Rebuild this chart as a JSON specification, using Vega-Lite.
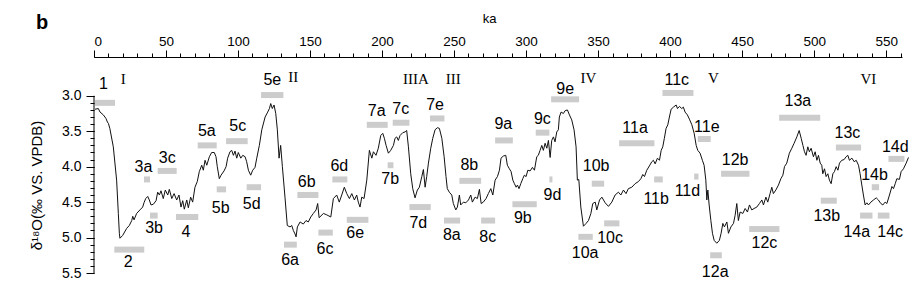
{
  "$schema": "https://vega.github.io/schema/vega-lite/v6.json",
  "autosize": "none",
  "width": 808,
  "height": 216,
  "padding": {"left": 94, "top": 57, "right": 9, "bottom": 22},
  "background": "white",
  "title": {"text": "b", "anchor": "start", "frame": "group", "dx": -58, "offset": -37, "baseline": "alphabetic", "fontSize": 20, "fontWeight": "bold", "font": "Liberation Sans", "color": "black"},
  "config": {
    "view": {"stroke": null},
    "axis": {"grid": false, "labelFont": "Liberation Sans", "titleFont": "Liberation Sans", "labelColor": "black", "titleColor": "black", "tickColor": "black", "domainColor": "black", "titleFontWeight": "normal"},
    "text": {"font": "Liberation Sans"}
  },
  "datasets": {
    "curve": [
      {"ka":0.7,"d":3.19},{"ka":3,"d":3.18},{"ka":4.2,"d":3.23},{"ka":6.5,"d":3.27},{"ka":8.3,"d":3.32},{"ka":9.3,"d":3.37},{"ka":10,"d":3.39},{"ka":11,"d":3.46},{"ka":13.4,"d":3.72},{"ka":15.7,"d":4.19},{"ka":16.9,"d":4.66},{"ka":17.6,"d":4.94},{"ka":18,"d":5.01},{"ka":19.9,"d":4.97},{"ka":22.7,"d":4.87},{"ka":24.5,"d":4.83},{"ka":26.2,"d":4.76},{"ka":26.9,"d":4.70},{"ka":27.8,"d":4.75},{"ka":29.6,"d":4.66},{"ka":31.9,"d":4.61},{"ka":33.8,"d":4.57},{"ka":34.7,"d":4.51},{"ka":35.9,"d":4.45},{"ka":37.3,"d":4.42},{"ka":38.4,"d":4.47},{"ka":39.6,"d":4.54},{"ka":41.2,"d":4.53},{"ka":43.1,"d":4.48},{"ka":44.2,"d":4.36},{"ka":45.4,"d":4.40},{"ka":46.5,"d":4.34},{"ka":48.1,"d":4.45},{"ka":49.5,"d":4.33},{"ka":51.2,"d":4.40},{"ka":52.3,"d":4.32},{"ka":54,"d":4.45},{"ka":55.6,"d":4.38},{"ka":57.4,"d":4.47},{"ka":59,"d":4.40},{"ka":60.4,"d":4.57},{"ka":61.6,"d":4.48},{"ka":62.7,"d":4.60},{"ka":64.4,"d":4.47},{"ka":65.5,"d":4.58},{"ka":67.1,"d":4.43},{"ka":68.5,"d":4.50},{"ka":70.1,"d":4.29},{"ka":71.7,"d":4.21},{"ka":73.1,"d":4.07},{"ka":74.8,"d":3.98},{"ka":75.9,"d":4.05},{"ka":77.1,"d":3.91},{"ka":78.3,"d":3.98},{"ka":80.1,"d":3.86},{"ka":81.7,"d":3.80},{"ka":83.5,"d":3.80},{"ka":84.7,"d":3.86},{"ka":85.6,"d":4.00},{"ka":87,"d":4.17},{"ka":88.2,"d":4.12},{"ka":90.3,"d":4.06},{"ka":91.7,"d":4.00},{"ka":92.8,"d":3.88},{"ka":94.4,"d":3.79},{"ka":95.6,"d":3.77},{"ka":96.8,"d":3.84},{"ka":97.9,"d":3.78},{"ka":99.1,"d":3.88},{"ka":100.2,"d":3.80},{"ka":101.9,"d":3.88},{"ka":103.3,"d":3.84},{"ka":104.9,"d":3.86},{"ka":106,"d":3.93},{"ka":107.2,"d":4.05},{"ka":108.8,"d":4.12},{"ka":110.2,"d":4.05},{"ka":111.8,"d":4.01},{"ka":113,"d":3.88},{"ka":114.8,"d":3.70},{"ka":116.5,"d":3.48},{"ka":118.8,"d":3.30},{"ka":120.6,"d":3.23},{"ka":121.8,"d":3.18},{"ka":122.7,"d":3.11},{"ka":123.8,"d":3.18},{"ka":125,"d":3.13},{"ka":126.2,"d":3.25},{"ka":127.3,"d":3.48},{"ka":128.5,"d":3.88},{"ka":129.6,"d":3.70},{"ka":130.8,"d":4.00},{"ka":132.6,"d":4.43},{"ka":134.2,"d":4.83},{"ka":136.1,"d":4.85},{"ka":137.3,"d":4.83},{"ka":138.4,"d":4.90},{"ka":139.6,"d":4.95},{"ka":140.3,"d":4.99},{"ka":141.2,"d":4.85},{"ka":143.1,"d":4.78},{"ka":145.3,"d":4.81},{"ka":147.2,"d":4.76},{"ka":148.8,"d":4.78},{"ka":150.5,"d":4.71},{"ka":152.3,"d":4.66},{"ka":154.2,"d":4.61},{"ka":155.3,"d":4.52},{"ka":156.3,"d":4.72},{"ka":159.3,"d":4.66},{"ka":161.6,"d":4.68},{"ka":164.4,"d":4.71},{"ka":166.2,"d":4.45},{"ka":168.5,"d":4.40},{"ka":170.3,"d":4.50},{"ka":172,"d":4.40},{"ka":173.8,"d":4.29},{"ka":175.5,"d":4.38},{"ka":177.3,"d":4.45},{"ka":179,"d":4.38},{"ka":180.8,"d":4.47},{"ka":182.4,"d":4.40},{"ka":183.5,"d":4.50},{"ka":184.7,"d":4.57},{"ka":185.9,"d":4.43},{"ka":187.5,"d":4.45},{"ka":189.4,"d":4.19},{"ka":191.2,"d":3.77},{"ka":192.9,"d":3.88},{"ka":194,"d":3.79},{"ka":195.8,"d":3.84},{"ka":197.4,"d":3.74},{"ka":199.1,"d":3.56},{"ka":200.5,"d":3.53},{"ka":201.6,"d":3.60},{"ka":202.8,"d":3.70},{"ka":204.4,"d":3.81},{"ka":206,"d":3.77},{"ka":207.9,"d":3.70},{"ka":209,"d":3.60},{"ka":210.2,"d":3.58},{"ka":211.3,"d":3.63},{"ka":212.5,"d":3.56},{"ka":214.4,"d":3.52},{"ka":216,"d":3.51},{"ka":217.1,"d":3.49},{"ka":218.3,"d":3.72},{"ka":219.9,"d":4.10},{"ka":221.3,"d":4.31},{"ka":222.9,"d":4.44},{"ka":224.5,"d":4.33},{"ka":225.9,"d":4.29},{"ka":227.6,"d":4.14},{"ka":228.7,"d":4.04},{"ka":229.9,"d":4.29},{"ka":231,"d":4.14},{"ka":232.2,"d":3.95},{"ka":233.8,"d":3.74},{"ka":235.2,"d":3.60},{"ka":236.8,"d":3.48},{"ka":238.4,"d":3.45},{"ka":239.8,"d":3.46},{"ka":241.5,"d":3.60},{"ka":243.1,"d":3.86},{"ka":244.4,"d":4.14},{"ka":245.3,"d":4.31},{"ka":246.7,"d":4.36},{"ka":248.4,"d":4.40},{"ka":249.5,"d":4.52},{"ka":251.2,"d":4.61},{"ka":252.3,"d":4.57},{"ka":253.7,"d":4.40},{"ka":254.6,"d":4.54},{"ka":256.5,"d":4.50},{"ka":258.1,"d":4.51},{"ka":260,"d":4.47},{"ka":261.6,"d":4.40},{"ka":262.7,"d":4.50},{"ka":264.6,"d":4.43},{"ka":266.2,"d":4.45},{"ka":267.6,"d":4.32},{"ka":268.8,"d":4.52},{"ka":270.3,"d":4.50},{"ka":272.2,"d":4.45},{"ka":273.8,"d":4.38},{"ka":275.5,"d":4.31},{"ka":276.9,"d":4.40},{"ka":278.5,"d":4.19},{"ka":280.1,"d":4.14},{"ka":281.5,"d":4.05},{"ka":282.6,"d":3.88},{"ka":284.2,"d":3.85},{"ka":285.9,"d":3.84},{"ka":287,"d":3.98},{"ka":288.4,"d":4.03},{"ka":289.6,"d":4.07},{"ka":290.8,"d":4.19},{"ka":291.9,"d":4.24},{"ka":293.1,"d":4.29},{"ka":294,"d":4.26},{"ka":295.1,"d":4.31},{"ka":296.3,"d":4.24},{"ka":297.7,"d":4.17},{"ka":298.8,"d":4.12},{"ka":300,"d":4.14},{"ka":301.2,"d":4.05},{"ka":302.8,"d":4.06},{"ka":304.4,"d":4.01},{"ka":305.8,"d":4.05},{"ka":307.4,"d":3.86},{"ka":308.5,"d":3.84},{"ka":309.7,"d":3.77},{"ka":310.9,"d":3.70},{"ka":312,"d":3.77},{"ka":313.2,"d":3.67},{"ka":314.4,"d":3.74},{"ka":315.5,"d":3.63},{"ka":316.7,"d":3.87},{"ka":317.8,"d":3.63},{"ka":319,"d":3.58},{"ka":320.1,"d":3.65},{"ka":321.3,"d":3.51},{"ka":322.4,"d":3.48},{"ka":323.1,"d":3.30},{"ka":324.3,"d":3.23},{"ka":325.9,"d":3.25},{"ka":327.1,"d":3.21},{"ka":328.7,"d":3.20},{"ka":330.1,"d":3.27},{"ka":331.7,"d":3.34},{"ka":333.3,"d":3.48},{"ka":334.7,"d":3.72},{"ka":335.6,"d":4.19},{"ka":336.6,"d":4.18},{"ka":338,"d":4.57},{"ka":339.8,"d":4.84},{"ka":341.7,"d":4.80},{"ka":343.3,"d":4.76},{"ka":345,"d":4.66},{"ka":346.3,"d":4.52},{"ka":348,"d":4.50},{"ka":349.1,"d":4.61},{"ka":351,"d":4.47},{"ka":352.6,"d":4.43},{"ka":354.9,"d":4.51},{"ka":357.2,"d":4.56},{"ka":359.5,"d":4.50},{"ka":361.8,"d":4.40},{"ka":364.1,"d":4.36},{"ka":365.8,"d":4.40},{"ka":367.6,"d":4.33},{"ka":369.4,"d":4.38},{"ka":371,"d":4.31},{"ka":373.4,"d":4.29},{"ka":375.7,"d":4.24},{"ka":378,"d":4.21},{"ka":379.7,"d":4.17},{"ka":381,"d":4.11},{"ka":382.2,"d":4.14},{"ka":383.8,"d":4.05},{"ka":385.6,"d":3.99},{"ka":387.3,"d":3.93},{"ka":388.4,"d":3.91},{"ka":389.6,"d":3.96},{"ka":391.2,"d":3.88},{"ka":392.6,"d":3.91},{"ka":393.8,"d":3.77},{"ka":394.9,"d":3.72},{"ka":396,"d":3.60},{"ka":397.2,"d":3.46},{"ka":398.4,"d":3.41},{"ka":399.5,"d":3.30},{"ka":400.7,"d":3.19},{"ka":402.3,"d":3.16},{"ka":404.2,"d":3.13},{"ka":405.1,"d":3.18},{"ka":406.5,"d":3.15},{"ka":408.1,"d":3.18},{"ka":409.2,"d":3.16},{"ka":410.4,"d":3.23},{"ka":412,"d":3.27},{"ka":413.4,"d":3.33},{"ka":415.1,"d":3.41},{"ka":416.7,"d":3.53},{"ka":418.1,"d":3.70},{"ka":419.2,"d":3.77},{"ka":420.8,"d":3.81},{"ka":422.4,"d":3.91},{"ka":423.6,"d":3.98},{"ka":424.8,"d":4.19},{"ka":425.5,"d":4.47},{"ka":426.2,"d":4.33},{"ka":427.1,"d":4.54},{"ka":428.3,"d":4.76},{"ka":429.4,"d":4.94},{"ka":430.6,"d":5.04},{"ka":432.4,"d":5.08},{"ka":434.2,"d":5.04},{"ka":435.4,"d":4.94},{"ka":436.6,"d":4.80},{"ka":437.7,"d":4.85},{"ka":439.4,"d":4.78},{"ka":440.5,"d":4.94},{"ka":442.2,"d":4.85},{"ka":444,"d":4.80},{"ka":445.1,"d":4.69},{"ka":446.3,"d":4.52},{"ka":447.4,"d":4.76},{"ka":448.6,"d":4.64},{"ka":450.5,"d":4.66},{"ka":452.1,"d":4.59},{"ka":453.7,"d":4.64},{"ka":455.1,"d":4.54},{"ka":456.7,"d":4.61},{"ka":458.3,"d":4.59},{"ka":460.2,"d":4.57},{"ka":462,"d":4.52},{"ka":463.7,"d":4.47},{"ka":464.8,"d":4.54},{"ka":466.5,"d":4.43},{"ka":467.8,"d":4.50},{"ka":469.4,"d":4.38},{"ka":470.6,"d":4.29},{"ka":471.7,"d":4.38},{"ka":473.4,"d":4.33},{"ka":475.2,"d":4.26},{"ka":476.9,"d":4.17},{"ka":478.3,"d":4.12},{"ka":479.4,"d":4.00},{"ka":481,"d":3.95},{"ka":482.8,"d":3.81},{"ka":484.5,"d":3.74},{"ka":486.1,"d":3.67},{"ka":488,"d":3.58},{"ka":489.6,"d":3.49},{"ka":491,"d":3.60},{"ka":492.2,"d":3.70},{"ka":493.3,"d":3.79},{"ka":494.4,"d":3.84},{"ka":495.6,"d":3.72},{"ka":496.7,"d":3.79},{"ka":497.9,"d":3.74},{"ka":499.5,"d":3.86},{"ka":500.7,"d":3.79},{"ka":501.9,"d":3.91},{"ka":503,"d":3.84},{"ka":504.2,"d":3.95},{"ka":505.3,"d":3.98},{"ka":506,"d":4.10},{"ka":507.2,"d":4.03},{"ka":508.3,"d":4.14},{"ka":509.5,"d":4.10},{"ka":510.6,"d":4.19},{"ka":511.8,"d":4.24},{"ka":513,"d":4.10},{"ka":514.1,"d":4.07},{"ka":515.3,"d":4.00},{"ka":516.5,"d":4.05},{"ka":517.6,"d":3.95},{"ka":519.2,"d":3.91},{"ka":520.8,"d":3.90},{"ka":522.2,"d":3.86},{"ka":523.4,"d":3.84},{"ka":524.5,"d":3.91},{"ka":526.2,"d":3.88},{"ka":527.8,"d":3.93},{"ka":529.2,"d":3.91},{"ka":530.8,"d":3.98},{"ka":531.9,"d":4.10},{"ka":533.1,"d":4.26},{"ka":534.2,"d":4.40},{"ka":535.4,"d":4.54},{"ka":536.6,"d":4.51},{"ka":537.7,"d":4.54},{"ka":539.4,"d":4.50},{"ka":541.2,"d":4.47},{"ka":543.1,"d":4.44},{"ka":544.6,"d":4.47},{"ka":546.3,"d":4.52},{"ka":547.7,"d":4.54},{"ka":549.3,"d":4.50},{"ka":550.5,"d":4.52},{"ka":552.3,"d":4.40},{"ka":554,"d":4.28},{"ka":555.1,"d":4.31},{"ka":556.3,"d":4.24},{"ka":557.4,"d":4.17},{"ka":559.2,"d":4.18},{"ka":560.4,"d":4.07},{"ka":562,"d":4.03},{"ka":563.9,"d":3.95},{"ka":565.5,"d":3.87}
    ],
    "mis": [
      {"mis":"1","x1":0.7,"x2":14.6,"y":3.10,"lx":6.5,"ly":2.84},
      {"mis":"2","x1":14.1,"x2":34.9,"y":5.17,"lx":23.8,"ly":5.34},
      {"mis":"3a","x1":34.7,"x2":38.9,"y":4.18,"lx":34.3,"ly":4.01},
      {"mis":"3b","x1":38.9,"x2":44.2,"y":4.69,"lx":41.7,"ly":4.87},
      {"mis":"3c","x1":44.2,"x2":57.4,"y":4.06,"lx":50.9,"ly":3.88},
      {"mis":"4","x1":56.9,"x2":72.4,"y":4.71,"lx":63.9,"ly":4.92},
      {"mis":"5a","x1":72.0,"x2":85.2,"y":3.70,"lx":78.3,"ly":3.50},
      {"mis":"5b","x1":85.2,"x2":91.7,"y":4.32,"lx":88.0,"ly":4.58},
      {"mis":"5c","x1":91.7,"x2":106.7,"y":3.64,"lx":99.8,"ly":3.43},
      {"mis":"5d","x1":106.0,"x2":116.0,"y":4.29,"lx":109.5,"ly":4.53},
      {"mis":"5e","x1":116.0,"x2":131.5,"y":2.99,"lx":123.8,"ly":2.78},
      {"mis":"6a","x1":131.9,"x2":140.8,"y":5.10,"lx":136.1,"ly":5.32},
      {"mis":"6b","x1":141.2,"x2":155.8,"y":4.40,"lx":147.7,"ly":4.21},
      {"mis":"6c","x1":155.8,"x2":165.8,"y":4.93,"lx":160.4,"ly":5.16},
      {"mis":"6d","x1":165.5,"x2":175.9,"y":4.18,"lx":170.3,"ly":3.99},
      {"mis":"6e","x1":175.5,"x2":190.5,"y":4.75,"lx":181.3,"ly":4.94},
      {"mis":"7a","x1":189.4,"x2":203.9,"y":3.41,"lx":196.3,"ly":3.22},
      {"mis":"7b","x1":203.9,"x2":207.9,"y":3.98,"lx":205.6,"ly":4.18},
      {"mis":"7c","x1":207.4,"x2":219.0,"y":3.38,"lx":213.0,"ly":3.19},
      {"mis":"7d","x1":219.0,"x2":233.8,"y":4.57,"lx":225.2,"ly":4.79},
      {"mis":"7e","x1":233.3,"x2":243.3,"y":3.32,"lx":236.8,"ly":3.13},
      {"mis":"8a","x1":243.0,"x2":254.2,"y":4.76,"lx":248.4,"ly":4.97},
      {"mis":"8b","x1":253.7,"x2":268.8,"y":4.20,"lx":260.6,"ly":3.98},
      {"mis":"8c","x1":268.8,"x2":278.5,"y":4.76,"lx":273.4,"ly":4.99},
      {"mis":"9a","x1":278.5,"x2":290.8,"y":3.63,"lx":284.2,"ly":3.40},
      {"mis":"9b","x1":290.5,"x2":307.4,"y":4.53,"lx":297.7,"ly":4.73},
      {"mis":"9c","x1":306.7,"x2":316.2,"y":3.52,"lx":311.3,"ly":3.33},
      {"mis":"9d","x1":316.2,"x2":318.3,"y":4.18,"lx":318.3,"ly":4.40},
      {"mis":"9e","x1":317.4,"x2":336.8,"y":3.05,"lx":327.1,"ly":2.90},
      {"mis":"10a","x1":336.3,"x2":346.3,"y":4.99,"lx":341.0,"ly":5.22},
      {"mis":"10b","x1":345.6,"x2":354.2,"y":4.24,"lx":348.6,"ly":3.99},
      {"mis":"10c","x1":354.2,"x2":364.8,"y":4.80,"lx":358.3,"ly":5.01},
      {"mis":"11a","x1":364.6,"x2":389.1,"y":3.67,"lx":375.7,"ly":3.45},
      {"mis":"11b","x1":388.9,"x2":394.9,"y":4.18,"lx":390.3,"ly":4.45},
      {"mis":"11c","x1":394.7,"x2":416.2,"y":2.96,"lx":404.6,"ly":2.78},
      {"mis":"11d","x1":416.7,"x2":419.7,"y":4.14,"lx":412.0,"ly":4.34},
      {"mis":"11e","x1":419.2,"x2":428.2,"y":3.61,"lx":425.5,"ly":3.44},
      {"mis":"12a","x1":427.8,"x2":435.9,"y":5.25,"lx":431.3,"ly":5.49},
      {"mis":"12b","x1":435.4,"x2":455.1,"y":4.10,"lx":445.1,"ly":3.90},
      {"mis":"12c","x1":454.9,"x2":475.9,"y":4.88,"lx":465.5,"ly":5.08},
      {"mis":"13a","x1":475.7,"x2":504.2,"y":3.31,"lx":488.7,"ly":3.08},
      {"mis":"13b","x1":504.6,"x2":515.7,"y":4.48,"lx":508.8,"ly":4.70},
      {"mis":"13c","x1":515.1,"x2":532.6,"y":3.73,"lx":523.1,"ly":3.53},
      {"mis":"14a","x1":531.9,"x2":540.5,"y":4.69,"lx":529.6,"ly":4.92},
      {"mis":"14b","x1":540.0,"x2":545.1,"y":4.29,"lx":541.9,"ly":4.12},
      {"mis":"14c","x1":544.2,"x2":552.3,"y":4.69,"lx":552.8,"ly":4.92},
      {"mis":"14d","x1":551.6,"x2":562.7,"y":3.89,"lx":556.3,"ly":3.72}
    ],
    "roman": [
      {"t":"I","x":20.3,"y":2.76},
      {"t":"II","x":138.4,"y":2.74},
      {"t":"IIIA","x":223.5,"y":2.76},
      {"t":"III","x":249.4,"y":2.76},
      {"t":"IV","x":343.3,"y":2.75},
      {"t":"V","x":430.1,"y":2.75},
      {"t":"VI","x":537.7,"y":2.76}
    ]
  },
  "resolve": {"axis": {"x": "independent", "y": "independent"}},
  "layer": [
    {
      "data": {"values": [{}]},
      "mark": {"type": "rule", "color": "black", "strokeWidth": 1},
      "encoding": {
        "x": {"datum": 0, "type": "quantitative", "scale": {"domain": [0, 561], "nice": false, "zero": false}, "axis": null},
        "y": {"datum": 3.0, "type": "quantitative", "scale": {"domain": [2.453, 5.5], "reverse": true, "nice": false, "zero": false}, "axis": null},
        "y2": {"datum": 5.5}
      }
    },
    {
      "data": {"name": "mis"},
      "mark": {"type": "rule", "color": "#cccccc", "strokeWidth": 6, "strokeCap": "butt"},
      "encoding": {
        "x": {"field": "x1", "type": "quantitative", "scale": {"domain": [0, 561], "nice": false, "zero": false},
              "axis": {"orient": "top", "values": [0,10,20,30,40,50,60,70,80,90,100,110,120,130,140,150,160,170,180,190,200,210,220,230,240,250,260,270,280,290,300,310,320,330,340,350,360,370,380,390,400,410,420,430,440,450,460,470,480,490,500,510,520,530,540,550,560], "labels": false, "domain": false, "tickSize": 4, "title": null}},
        "x2": {"field": "x2"},
        "y": {"field": "y", "type": "quantitative", "scale": {"domain": [2.453, 5.5], "reverse": true, "nice": false, "zero": false},
              "axis": {"orient": "left", "values": [3.0,3.1,3.2,3.3,3.4,3.5,3.6,3.7,3.8,3.9,4.0,4.1,4.2,4.3,4.4,4.5,4.6,4.7,4.8,4.9,5.0,5.1,5.2,5.3,5.4,5.5], "labels": false, "domain": false, "tickSize": 4, "title": null}}
      }
    },
    {
      "data": {"name": "curve"},
      "mark": {"type": "line", "color": "#111111", "strokeWidth": 1},
      "encoding": {
        "x": {"field": "ka", "type": "quantitative", "scale": {"domain": [0, 561], "nice": false, "zero": false},
              "axis": {"orient": "top", "values": [0,50,100,150,200,250,300,350,400,450,500,550], "tickSize": 7, "labelPadding": 2, "labelFontSize": 13.5, "title": "ka", "titleFontSize": 13, "titleX": 395, "titleY": -35, "titleBaseline": "alphabetic", "titleAlign": "center"}},
        "y": {"field": "d", "type": "quantitative", "scale": {"domain": [2.453, 5.5], "reverse": true, "nice": false, "zero": false},
              "axis": {"orient": "left", "values": [3.0,3.5,4.0,4.5,5.0,5.5], "format": ".1f", "tickSize": 8, "labelPadding": 5, "labelFontSize": 14, "domain": false, "title": "δ¹⁸O(‰ VS. VPDB)", "titleFontSize": 15, "titleX": -58, "titleY": 128, "titleBaseline": "middle", "titleAlign": "center"}}
      }
    },
    {
      "data": {"name": "mis"},
      "mark": {"type": "text", "fontSize": 16, "color": "black", "align": "center", "baseline": "middle"},
      "encoding": {
        "x": {"field": "lx", "type": "quantitative", "scale": {"domain": [0, 561], "nice": false, "zero": false}, "axis": null},
        "y": {"field": "ly", "type": "quantitative", "scale": {"domain": [2.453, 5.5], "reverse": true, "nice": false, "zero": false}, "axis": null},
        "text": {"field": "mis"}
      }
    },
    {
      "data": {"name": "roman"},
      "mark": {"type": "text", "fontSize": 15, "font": "Liberation Serif", "color": "black", "align": "center", "baseline": "middle"},
      "encoding": {
        "x": {"field": "x", "type": "quantitative", "scale": {"domain": [0, 561], "nice": false, "zero": false}, "axis": null},
        "y": {"field": "y", "type": "quantitative", "scale": {"domain": [2.453, 5.5], "reverse": true, "nice": false, "zero": false}, "axis": null},
        "text": {"field": "t"}
      }
    }
  ]
}
